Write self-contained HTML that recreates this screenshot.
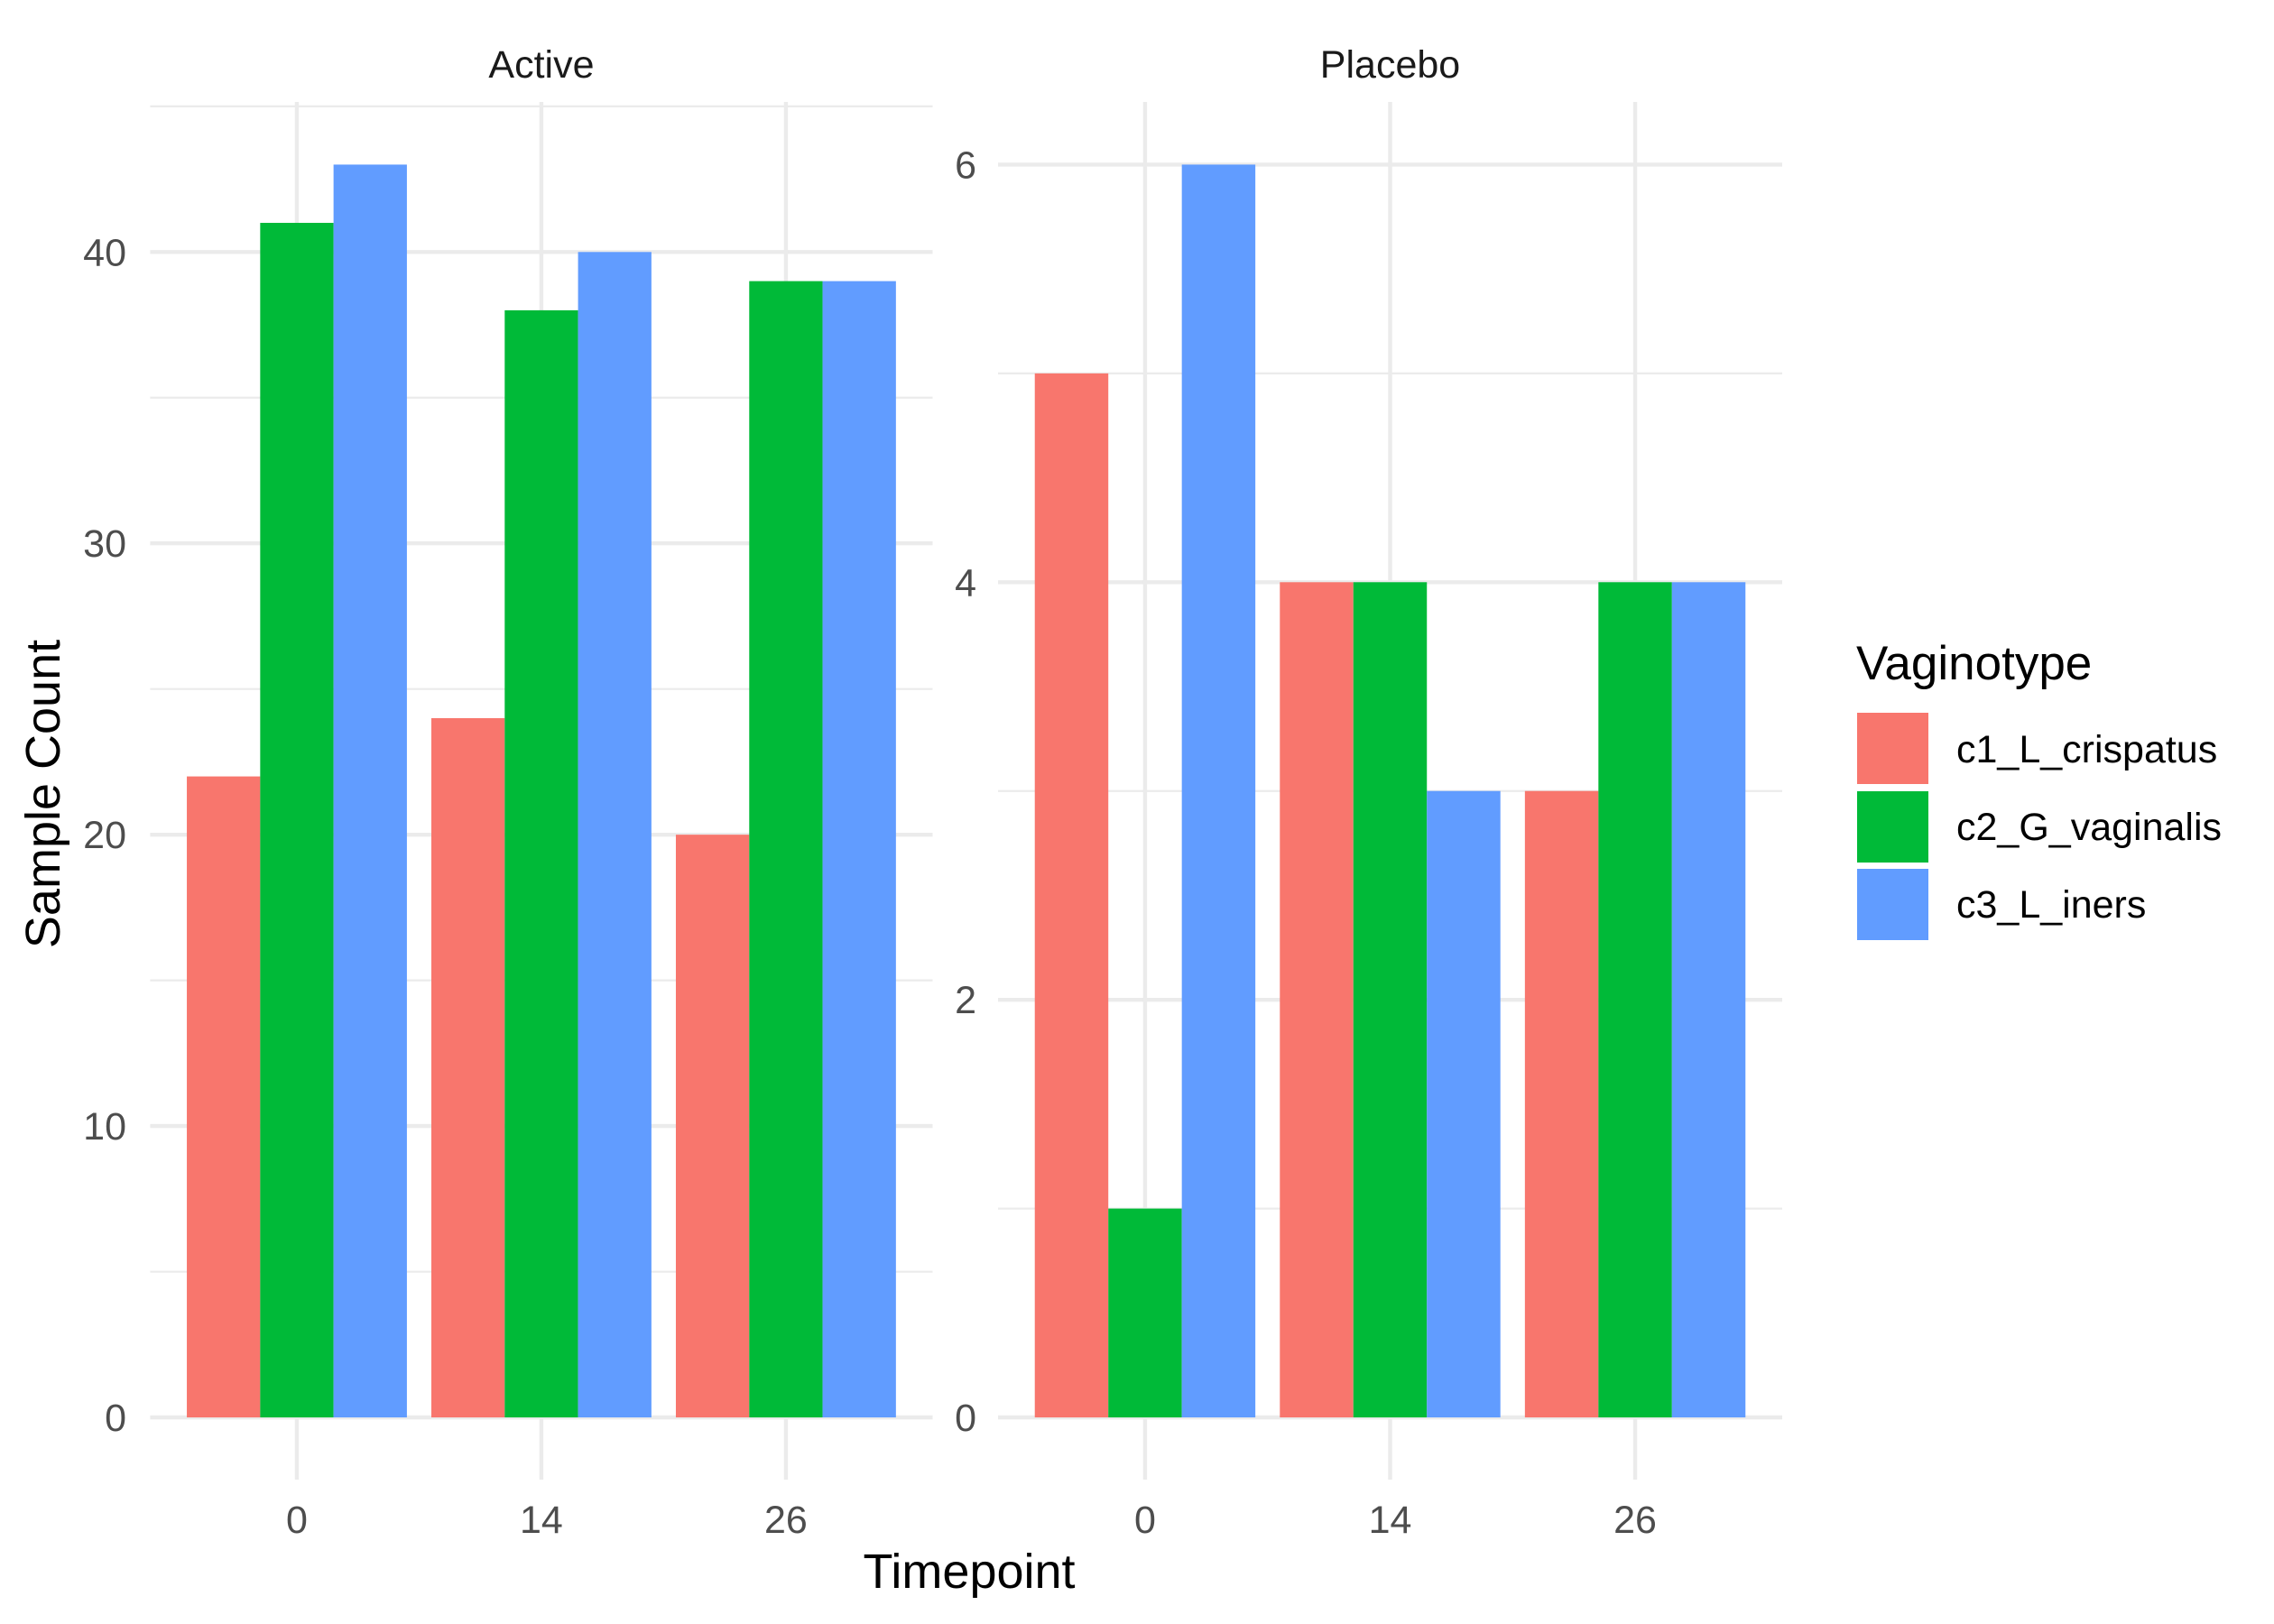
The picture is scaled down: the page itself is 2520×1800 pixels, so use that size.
<!DOCTYPE html>
<html><head><meta charset="utf-8"><style>
html,body{margin:0;padding:0;background:#fff}
svg{display:block}
text{font-family:"Liberation Sans",sans-serif}
</style></head><body>
<svg id="chart" xmlns="http://www.w3.org/2000/svg" width="2520" height="1800" viewBox="0 0 2520 1800">
<rect width="2520" height="1800" fill="#fff"/>
<g id="panels"></g>
<text x="1074" y="1760" font-size="54" text-anchor="middle" fill="#000">Timepoint</text>
<text x="0" y="0" font-size="54" text-anchor="middle" fill="#000" transform="translate(66,880) rotate(-90)">Sample Count</text>
<g>
<text x="2057" y="753" font-size="53" fill="#000">Vaginotype</text>
<rect x="2058" y="790" width="79" height="79" fill="#F8766D"/>
<rect x="2058" y="877" width="79" height="79" fill="#00BA38"/>
<rect x="2058" y="963" width="79" height="79" fill="#619CFF"/>
<text x="2168" y="845" font-size="43" fill="#000">c1_L_crispatus</text>
<text x="2168" y="931" font-size="43" fill="#000">c2_G_vaginalis</text>
<text x="2168" y="1017" font-size="43" fill="#000">c3_L_iners</text>
</g>
</svg>
<script>
const categories = ["0", "14", "26"];
const seriesNames = ["c1_L_crispatus", "c2_G_vaginalis", "c3_L_iners"];
const activeC1 = [22, 24, 20];
const activeC2 = [41, 38, 39];
const activeC3 = [43, 40, 39];
const placeboC1 = [5, 4, 3];
const placeboC2 = [1, 4, 4];
const placeboC3 = [6, 3, 4];
const activeMajorTicks = [0, 10, 20, 30, 40];
const activeMinorTicks = [5, 15, 25, 35, 45];
const placeboMajorTicks = [0, 2, 4, 6];
const placeboMinorTicks = [1, 3, 5];

const colors = ["#F8766D", "#00BA38", "#619CFF"];
const NS = "http://www.w3.org/2000/svg";
const root = document.getElementById("panels");
function mk(tag, attrs, parent) {
  const e = document.createElementNS(NS, tag);
  for (const k in attrs) e.setAttribute(k, attrs[k]);
  parent.appendChild(e);
  return e;
}
const yTop = 113, yBot = 1640, y0 = 1571;
function drawPanel(name, left, right, series, majors, minors, labelRight) {
  const g = mk("g", {}, root);
  
  
  let maxV = 0;
  series.forEach(s => s.forEach(v => { if (v > maxV) maxV = v; }));
  const unit = (y0 - yTop) / (maxV * 1.05);
  const ys = v => y0 - v * unit;
  const step = (right - left) / (categories.length - 1 + 1.2);
  const xs = i => left + step * (0.6 + i);
  minors.forEach(t => {
    const y = ys(t); if (y < yTop - 6) return;
    const l = mk("line", {x1: left, x2: right, y1: y, y2: y, stroke: "#ebebeb", "stroke-width": 2.2}, g);
    
    
  });
  majors.forEach(t => {
    const y = ys(t);
    const l = mk("line", {x1: left, x2: right, y1: y, y2: y, stroke: "#ebebeb", "stroke-width": 4.4}, g);
    
    
    const tx = mk("text", {x: labelRight, y: y + 15, "font-size": 43, "text-anchor": "end", fill: "#4d4d4d"}, g);
    tx.textContent = t;
    
    
  });
  categories.forEach((c, i) => {
    const x = xs(i);
    const l = mk("line", {x1: x, x2: x, y1: yTop, y2: yBot, stroke: "#ebebeb", "stroke-width": 4.4}, g);
    
    
    const tx = mk("text", {x: x, y: 1699, "font-size": 43, "text-anchor": "middle", fill: "#4d4d4d"}, g);
    tx.textContent = c;
    
    
  });
  const bw = step * 0.9 / series.length;
  series.forEach((s, si) => {
    s.forEach((v, i) => {
      const x = xs(i) - step * 0.45 + si * bw;
      const r = mk("rect", {x: x, y: ys(v), width: bw, height: y0 - ys(v), fill: colors[si]}, g);
      
      
    });
  });
  const st = mk("text", {x: (left + right) / 2, y: 86, "font-size": 43, "text-anchor": "middle", fill: "#1a1a1a"}, g);
  st.textContent = name;
  
  
}
drawPanel("Active", 166.4, 1033.5, [activeC1, activeC2, activeC3], activeMajorTicks, activeMinorTicks, 140);
drawPanel("Placebo", 1106, 1975, [placeboC1, placeboC2, placeboC3], placeboMajorTicks, placeboMinorTicks, 1082);
</script>
</body></html>
